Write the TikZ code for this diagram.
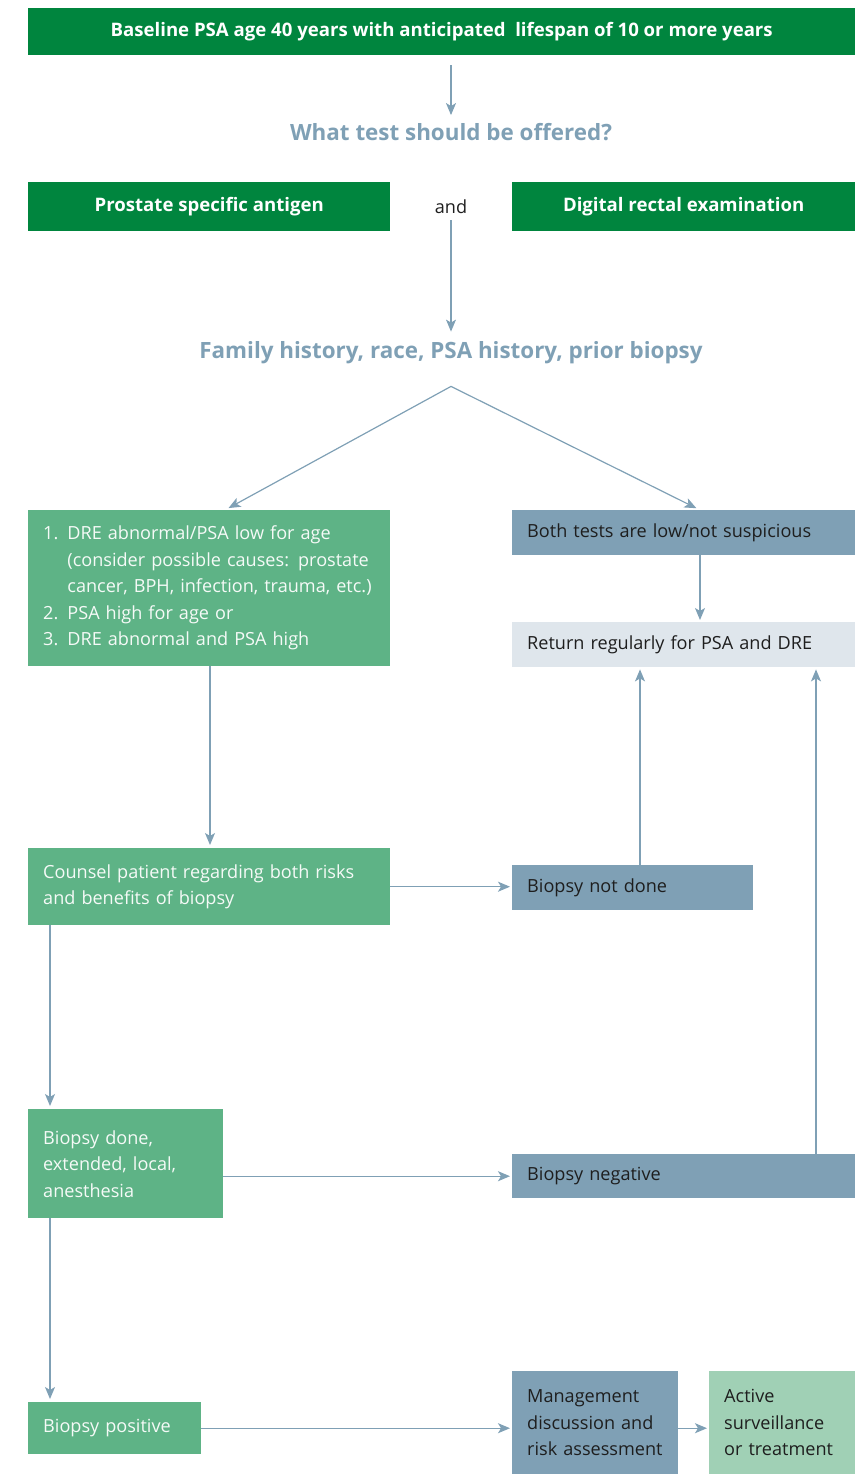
\documentclass[tikz,border=0pt]{standalone}
\usepackage{fontspec}
\setmainfont{Open Sans}
\usetikzlibrary{arrows.meta,calc}
\definecolor{dkgreen}{RGB}{0,133,62}
\definecolor{mdgreen}{RGB}{94,179,134}
\definecolor{bgray}{RGB}{127,160,181}
\definecolor{lgray}{RGB}{223,230,236}
\definecolor{lgreen}{RGB}{160,208,181}
\definecolor{arr}{RGB}{127,160,181}
\definecolor{txt}{RGB}{30,30,30}
\definecolor{wtxt}{RGB}{245,250,247}
\begin{document}
\begin{tikzpicture}[x=1pt,y=-1pt,
  hdr/.style={anchor=north west, inner sep=0pt, fill=dkgreen, text=white,
    font=\bfseries\fontsize{18.6}{22}\selectfont, align=center},
  box/.style={anchor=north west, inner xsep=15pt, inner ysep=0pt, align=left,
    font=\fontsize{18.1}{26.5}\selectfont},
  gbox/.style={box, fill=mdgreen, text=wtxt},
  bbox/.style={box, fill=bgray, text=txt},
  lbox/.style={box, fill=lgray, text=txt},
  agbox/.style={box, fill=lgreen, text=txt},
  qtext/.style={inner sep=0pt, text=bgray, font=\bfseries\fontsize{22.4}{26}\selectfont},
  conn/.style={draw=arr, line width=1.2pt, -{Stealth[length=12pt,width=10pt,inset=3pt]}}]
\useasboundingbox (0,0) rectangle (855,1474);

\node[hdr, minimum width=827pt, minimum height=47pt] (top) at (28,8)
  {Baseline PSA age 40 years with anticipated\ \ lifespan of 10 or more years};
\node[qtext] (q1) at (451,132) {What test should be offered?};
\node[hdr, minimum width=362pt, minimum height=49pt] (psa) at (28,182) {Prostate specific antigen};
\node[inner sep=0pt, text=txt, font=\fontsize{18.1}{22}\selectfont] (and) at (451,207) {and};
\node[hdr, minimum width=343pt, minimum height=49pt] (dre) at (512,182) {Digital rectal examination};
\node[qtext] (q2) at (451,353) {Family history, race, PSA history, prior biopsy};

\node[gbox, text width=332pt, minimum height=156pt] (list) at (28,510)
  {1. DRE abnormal/PSA low for age\\
   \hphantom{1. }(consider possible causes: prostate\\
   \hphantom{1. }cancer, BPH, infection, trauma, etc.)\\
   2. PSA high for age or\\
   3. DRE abnormal and PSA high};
\node[bbox, text width=313pt, minimum height=45pt] (both) at (512,510) {Both tests are low/not suspicious};
\node[lbox, text width=313pt, minimum height=45pt] (ret) at (512,622) {Return regularly for PSA and DRE};
\node[gbox, text width=332pt, minimum height=77pt] (counsel) at (28,848)
  {Counsel patient regarding both risks\\ and benefits of biopsy};
\node[bbox, text width=211pt, minimum height=45pt] (notdone) at (512,865) {Biopsy not done};
\node[gbox, text width=165pt, minimum height=109pt] (done) at (28,1109)
  {Biopsy done,\\ extended, local,\\ anesthesia};
\node[bbox, text width=313pt, minimum height=44pt] (neg) at (512,1154) {Biopsy negative};
\node[gbox, text width=143pt, minimum height=52pt] (pos) at (28,1402) {Biopsy positive};
\node[bbox, text width=136pt, minimum height=103pt] (mgmt) at (512,1371)
  {Management\\ discussion and\\ risk assessment};
\node[agbox, text width=116pt, minimum height=103pt] (active) at (709,1371)
  {Active\\ surveillance\\ or treatment};

\coordinate (split) at ($(q2.south)+(0,22)$);

\draw[conn] ($(q1 |- top.south)+(0,10)$) -- ($(q1.north)+(0,-8)$);
\draw[conn] ($(and.south)+(0,6)$) -- ($(q2.north)+(0,-10)$);
\draw[conn, shorten >=4pt] (split) -- ([xshift=197pt]list.north west);
\draw[conn, shorten >=4pt] (split) -- ([xshift=188pt]both.north west);
\draw[conn, shorten >=2pt] ([xshift=188pt]both.south west) -- ([xshift=188pt]ret.north west);
\draw[conn, shorten >=3pt] ([xshift=182pt]list.south west) -- ([xshift=182pt]counsel.north west);
\draw[conn, shorten >=2pt] (counsel.east) -- (counsel.east -| notdone.west);
\draw[conn, shorten >=2pt] ([xshift=128pt]notdone.north west) -- ([xshift=128pt]notdone.north west |- ret.south);
\draw[conn, shorten >=3pt] ([xshift=22pt]counsel.south west) -- ([xshift=22pt]done.north west);
\draw[conn, shorten >=2pt] (neg.west -| done.east) -- (neg.west);
\draw[conn, shorten >=2pt] ([xshift=304pt]neg.north west) -- ([xshift=304pt]neg.north west |- ret.south);
\draw[conn, shorten >=3pt] ([xshift=22pt]done.south west) -- ([xshift=22pt]pos.north west);
\draw[conn, shorten >=2pt] (pos.east) -- (pos.east -| mgmt.west);
\draw[conn, shorten >=2pt] (mgmt.east |- pos.east) -- (pos.east -| active.west);
\end{tikzpicture}
\end{document}
